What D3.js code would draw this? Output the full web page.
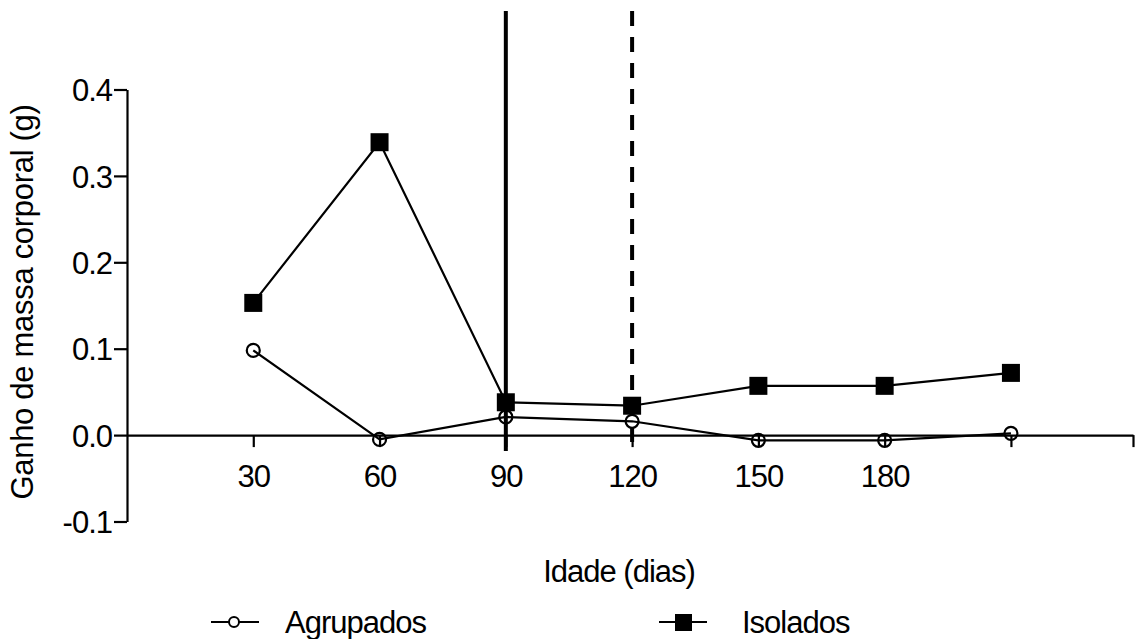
<!DOCTYPE html>
<html>
<head>
<meta charset="utf-8">
<script src="https://cdn.jsdelivr.net/npm/d3@7"></script>
<style>
  body { margin: 0; background: #fff; }
  text { font-family: "Liberation Sans", Arial, sans-serif; fill: #000; }
</style>
</head>
<body>
<div id="chart"></div>
<script>
// dias
var days = [30, 60, 90, 120, 150, 180, 210];
var xTicks = [30, 60, 90, 120, 150, 180, 210];
var xTickLabels = ['30', '60', '90', '120', '150', '180', '', ''];
var yTicks = [-0.1, 0.0, 0.1, 0.2, 0.3, 0.4];
var yTickLabels = ['-0.1', '0.0', '0.1', '0.2', '0.3', '0.4'];

// ganho de massa corporal (g)
var agrupados = [0.098, -0.005, 0.021, 0.016, -0.006, -0.006, 0.002];
var isolados = [0.153, 0.339, 0.038, 0.034, 0.057, 0.057, 0.072];

var seriesNames = ['Agrupados', 'Isolados'];
var markers = [90, 120];   // linhas verticais

var W = 1137, H = 639;
var fontSize = 31;

var x = d3.scaleLinear().domain([0, 239]).range([127, 1133]);
var y = d3.scaleLinear().domain([-0.1, 0.4]).range([521.5, 89.5]);

var svg = d3.select('#chart').append('svg')
  .attr('width', W)
  .attr('height', H);

// y axis
var yAxis = d3.axisLeft(y)
  .tickValues(yTicks)
  .tickFormat(function(d, i) { return yTickLabels[i]; })
  .tickSize(13)
  .tickSizeOuter(0)
  .tickPadding(2);

var gy = svg.append('g')
  .attr('transform', 'translate(' + x(0) + ',0)')
  .call(yAxis);
gy.selectAll('path, line').attr('stroke', '#000').attr('stroke-width', 2.2);
gy.selectAll('text').style('font-size', fontSize + 'px').style('letter-spacing', '-1px').attr('dy', '0.36em');

// x axis at y = 0
var xAxis = d3.axisBottom(x)
  .tickValues(xTicks.concat([239]))
  .tickFormat(function(d, i) { return xTickLabels[i]; })
  .tickSize(12)
  .tickSizeOuter(0)
  .tickPadding(18);

var gx = svg.append('g')
  .attr('transform', 'translate(0,' + y(0) + ')')
  .call(xAxis);
gx.selectAll('path, line').attr('stroke', '#000').attr('stroke-width', 2.2);
gx.selectAll('text').style('font-size', fontSize + 'px').style('letter-spacing', '-1px');

// vertical reference lines
svg.selectAll('.vline')
  .data(markers)
  .enter().append('line')
  .attr('class', 'vline')
  .attr('x1', function(d) { return x(d); })
  .attr('x2', function(d) { return x(d); })
  .attr('y1', 11)
  .attr('y2', function(d, i) { return i == 0 ? y(0) + 16 : y(0) + 10; })
  .attr('stroke', '#000')
  .attr('stroke-width', 4)
  .attr('stroke-dasharray', function(d, i) { return i == 0 ? null : '15,11'; });

var line = d3.line()
  .x(function(d, i) { return x(days[i]); })
  .y(function(d) { return y(d); });

// Agrupados
svg.append('path')
  .datum(agrupados)
  .attr('d', line)
  .attr('fill', 'none')
  .attr('stroke', '#000')
  .attr('stroke-width', 2.2);

svg.selectAll('.circ')
  .data(agrupados)
  .enter().append('circle')
  .attr('class', 'circ')
  .attr('cx', function(d, i) { return x(days[i]); })
  .attr('cy', function(d) { return y(d); })
  .attr('r', 6.5)
  .attr('fill', 'none')
  .attr('stroke', '#000')
  .attr('stroke-width', 2.2);

// Isolados
svg.append('path')
  .datum(isolados)
  .attr('d', line)
  .attr('fill', 'none')
  .attr('stroke', '#000')
  .attr('stroke-width', 2.2);

svg.selectAll('.sq')
  .data(isolados)
  .enter().append('rect')
  .attr('class', 'sq')
  .attr('x', function(d, i) { return x(days[i]) - 9; })
  .attr('y', function(d) { return y(d) - 9; })
  .attr('width', 18)
  .attr('height', 18)
  .attr('fill', '#000');

// axis titles
svg.append('text')
  .attr('x', 619)
  .attr('y', 582)
  .attr('text-anchor', 'middle')
  .style('font-size', fontSize + 'px')
  .style('letter-spacing', '-1px')
  .text('Idade (dias)');

svg.append('text')
  .attr('transform', 'translate(33,302) rotate(-90)')
  .attr('text-anchor', 'middle')
  .style('font-size', fontSize + 'px')
  .style('letter-spacing', '-0.3px')
  .text('Ganho de massa corporal (g)');

// legend
var legendX = [211, 659];
var leg = svg.selectAll('.leg')
  .data(seriesNames)
  .enter().append('g')
  .attr('class', 'leg')
  .attr('transform', function(d, i) { return 'translate(' + legendX[i] + ',622)'; });

leg.append('line')
  .attr('x1', 0).attr('x2', 48)
  .attr('stroke', '#000')
  .attr('stroke-width', 2.2);

leg.filter(function(d, i) { return i == 0; })
  .append('circle')
  .attr('cx', 23).attr('r', 5)
  .attr('fill', '#fff')
  .attr('stroke', '#000')
  .attr('stroke-width', 2);

leg.filter(function(d, i) { return i == 1; })
  .append('rect')
  .attr('x', 16).attr('y', -8)
  .attr('width', 17).attr('height', 17)
  .attr('fill', '#000');

leg.append('text')
  .attr('x', function(d, i) { return i == 0 ? 74 : 83; })
  .attr('y', 11)
  .style('font-size', fontSize + 'px')
  .style('letter-spacing', '-1px')
  .text(function(d) { return d; });
</script>
</body>
</html>
